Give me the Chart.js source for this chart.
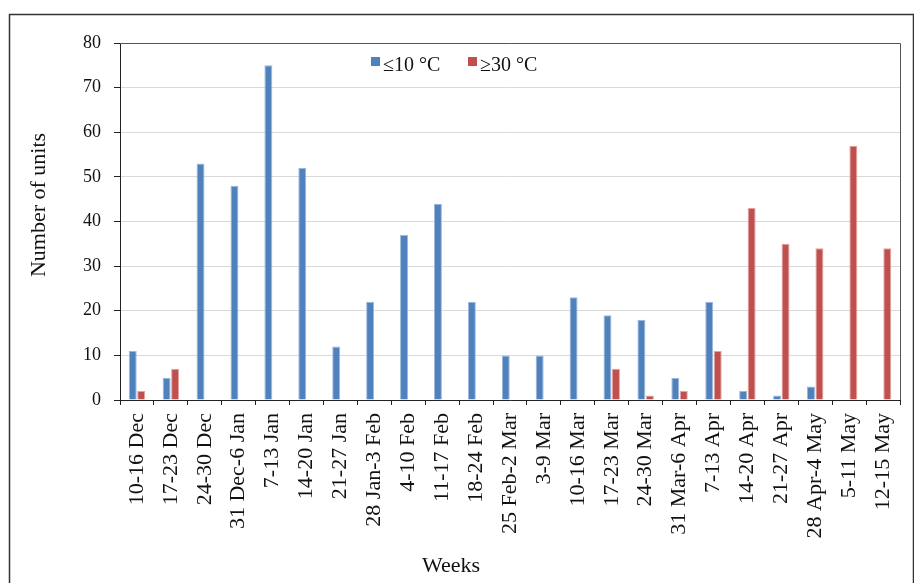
<!DOCTYPE html>
<html>
<head>
<meta charset="utf-8">
<script src="https://cdn.jsdelivr.net/npm/chart.js@4/dist/chart.umd.min.js"></script>
<style>
html,body{margin:0;padding:0;background:#fff;}
#wrap{width:914px;height:583px;position:relative;}
</style>
</head>
<body>
<div id="wrap"><canvas id="c" width="914" height="583"></canvas></div>
<script>
const weeks = ["10-16 Dec","17-23 Dec","24-30 Dec","31 Dec-6 Jan","7-13 Jan","14-20 Jan","21-27 Jan","28 Jan-3 Feb","4-10 Feb","11-17 Feb","18-24 Feb","25 Feb-2 Mar","3-9 Mar","10-16 Mar","17-23 Mar","24-30 Mar","31 Mar-6 Apr","7-13 Apr","14-20 Apr","21-27 Apr","28 Apr-4 May","5-11 May","12-15 May"];
const cold = [11,5,53,48,75,52,12,22,37,44,22,10,10,23,19,18,5,22,2,1,3,0,0];
const hot  = [2,7,0,0,0,0,0,0,0,0,0,0,0,0,7,1,2,11,43,35,34,57,34];
const seriesNames = ["≤10 °C","≥30 °C"];
const yTicks = [0,10,20,30,40,50,60,70,80];
const xTitle = "Weeks";
const yTitle = "Number of units";

const FONT = "'Liberation Serif','Times New Roman',serif";

const framePlugin = {
  id:'frame',
  afterDraw(chart){
    const ctx = chart.ctx, a = chart.chartArea;
    ctx.save();
    // outer border
    ctx.strokeStyle = '#333';
    ctx.lineWidth = 1.5;
    ctx.beginPath();
    ctx.moveTo(9.5, 583); ctx.lineTo(9.5, 14.5); ctx.lineTo(913.5, 14.5); ctx.lineTo(913.5,583);
    ctx.stroke();
    // plot area top/right border
    ctx.strokeStyle = '#555';
    ctx.lineWidth = 1;
    ctx.beginPath();
    ctx.moveTo(a.left, Math.round(a.top)+0.5);
    ctx.lineTo(Math.round(a.right)+0.5, Math.round(a.top)+0.5);
    ctx.lineTo(Math.round(a.right)+0.5, a.bottom);
    ctx.stroke();
    // legend
    ctx.font = "20px " + FONT;
    ctx.textBaseline = 'alphabetic';
    const items = chart.data.datasets;
    const xs = [371, 468];
    items.forEach((ds,i)=>{
      ctx.fillStyle = ds.backgroundColor;
      ctx.fillRect(xs[i], 57, 9, 9);
      ctx.fillStyle = '#111';
      ctx.textAlign = 'left';
      ctx.fillText(ds.label, xs[i]+12, 71);
    });
    // axis titles
    ctx.font = "22px " + FONT;
    ctx.fillStyle = '#111';
    ctx.textAlign = 'center';
    ctx.textBaseline = 'middle';
    ctx.fillText(xTitle, 451, 566);
    ctx.translate(39, 205);
    ctx.rotate(-Math.PI/2);
    ctx.fillText(yTitle, 0, 0);
    ctx.restore();
  }
};

new Chart(document.getElementById('c'), {
  type:'bar',
  data:{
    labels: weeks,
    datasets:[
      {label:seriesNames[0], data:cold, backgroundColor:'#4F81BD', borderColor:'#9db8dc', borderWidth:{top:1,left:1,right:1,bottom:0}, categoryPercentage:0.5, barPercentage:0.94},
      {label:seriesNames[1], data:hot, backgroundColor:'#C0504D', borderColor:'#e3a3a1', borderWidth:{top:1,left:1,right:1,bottom:0}, categoryPercentage:0.5, barPercentage:0.94}
    ]
  },
  options:{
    responsive:false,
    animation:false,
    devicePixelRatio:1,
    layout:{padding:{left:0, right:14, top:43, bottom:0}},
    plugins:{legend:{display:false}, tooltip:{enabled:false}},
    scales:{
      x:{
        afterFit(s){ s.height = 183; s.paddingLeft = 0; s.paddingRight = 0; },
        grid:{display:true, drawOnChartArea:false, drawTicks:true, tickLength:5, offset:true, tickColor:'#222', color:'#222'},
        border:{color:'#222', width:1},
        ticks:{autoSkip:false, minRotation:90, maxRotation:90, padding:8, color:'#111', font:{family:FONT, size:22}}
      },
      y:{
        min:0, max:80,
        afterFit(s){ s.width = 120; s.paddingTop = 0; s.paddingBottom = 0; },
        afterBuildTicks(s){ s.ticks = yTicks.map(v=>({value:v})); },
        grid:{color:'#d9d9d9', tickColor:'#222', tickLength:6, drawTicks:true},
        border:{color:'#222', width:1},
        ticks:{padding:13, color:'#111', font:{family:FONT, size:18}}
      }
    }
  },
  plugins:[framePlugin]
});
</script>
</body>
</html>
